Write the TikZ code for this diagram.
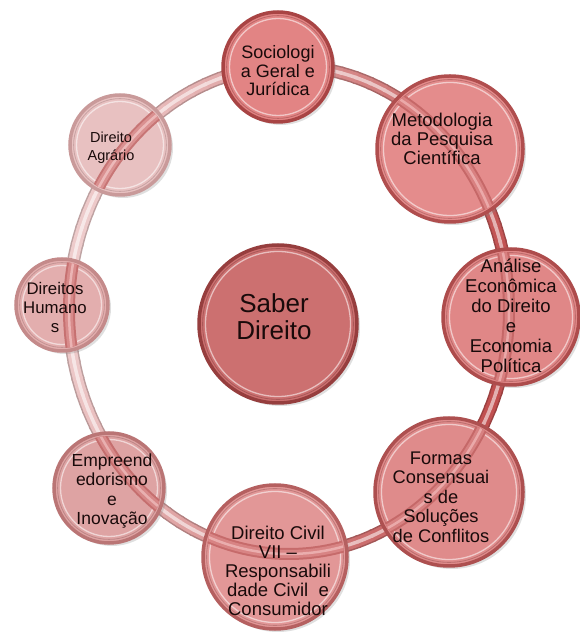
\documentclass[tikz,border=0pt]{standalone}
\usepackage{fontspec}
\setmainfont{Liberation Sans}
\usetikzlibrary{shadows}
\definecolor{ringdark}{RGB}{192,78,78}
\definecolor{ringlight}{RGB}{238,204,204}
\definecolor{txt}{RGB}{25,10,10}
\definecolor{seeE}{RGB}{188,92,92}
\definecolor{seeM}{RGB}{212,124,124}
\definecolor{seeH}{RGB}{238,182,182}
\definecolor{cenF}{RGB}{204,112,112}\definecolor{cenD}{RGB}{150,62,62}
\definecolor{socF}{RGB}{226,132,132}\definecolor{socD}{RGB}{168,68,68}
\definecolor{metF}{RGB}{228,140,140}\definecolor{metD}{RGB}{176,78,78}
\definecolor{anaF}{RGB}{224,135,135}\definecolor{anaD}{RGB}{173,76,76}
\definecolor{forF}{RGB}{223,139,139}\definecolor{forD}{RGB}{173,80,80}
\definecolor{civF}{RGB}{226,151,151}\definecolor{civD}{RGB}{181,96,96}
\definecolor{empF}{RGB}{222,163,163}\definecolor{empD}{RGB}{186,117,117}
\definecolor{humF}{RGB}{227,174,174}\definecolor{humD}{RGB}{196,138,138}
\definecolor{agrF}{RGB}{232,193,193}\definecolor{agrD}{RGB}{201,154,154}
\newcommand\bubble[4]{%
  \node[bub, minimum size=2*#4pt, fill=#1F, draw=#1D] (#1) at (#2,#3) {};
  \draw[white, opacity=.55, line width=1.3pt] (#1.center) circle ({#4-6.5});
  \draw[#1D!70!black, opacity=.35, line width=.8pt] (#1.center) circle ({#4-3.6});
}
\newcommand\seethrough[2]{%
  \begin{scope}
    \clip (#1.center) circle (#2);
    \draw[seeE!75!#1F, line width=12pt] (ringc) ellipse [x radius=220pt, y radius=244pt];
    \draw[seeM!70!#1F, line width=8pt] (ringc) ellipse [x radius=220pt, y radius=244pt];
    \draw[seeH!70!#1F, line width=2.5pt] (ringc) ellipse [x radius=220pt, y radius=244pt];
  \end{scope}
}
\begin{document}
\begin{tikzpicture}[x=1pt,y=1pt,
  bub/.style={circle, inner sep=0pt, line width=3.5pt,
    drop shadow={shadow xshift=3pt,shadow yshift=-3pt,opacity=.25}},
  lbl/.style={align=center, inner sep=0pt, text=txt}]
\useasboundingbox (0,0) rectangle (580,637);
\coordinate (ringc) at (289,327);
% ring
\foreach \a in {0,4,...,356} {
  \pgfmathsetmacro\m{50+50*cos(\a+12)}
  \colorlet{rc}{ringdark!\m!ringlight}
  \draw[rc!80!black, line width=13pt] ([shift={(\a:220pt and 244pt)}]ringc)
    arc[start angle=\a, end angle=\a+4.6, x radius=220pt, y radius=244pt];
}
\foreach \a in {0,4,...,356} {
  \pgfmathsetmacro\m{50+50*cos(\a+12)}
  \colorlet{rc}{ringdark!\m!ringlight}
  \draw[rc, line width=10pt] ([shift={(\a:220pt and 244pt)}]ringc)
    arc[start angle=\a, end angle=\a+4.6, x radius=220pt, y radius=244pt];
}
\foreach \a in {0,4,...,356} {
  \pgfmathsetmacro\m{50+50*cos(\a+12)}
  \colorlet{rc}{ringdark!\m!ringlight}
  \draw[rc!45!white, line width=3.5pt] ([shift={(\a:220pt and 244pt)}]ringc)
    arc[start angle=\a, end angle=\a+4.6, x radius=220pt, y radius=244pt];
}
% nodes
\bubble{cen}{278}{313}{79}
\bubble{soc}{278}{570}{55}
\bubble{met}{450}{488}{73}
\bubble{ana}{511}{320}{68}
\bubble{for}{449}{145}{74}
\bubble{civ}{275}{80}{72}
\bubble{emp}{109}{149}{55}
\bubble{hum}{62}{332}{46}
\bubble{agr}{120}{492}{50}
% ring seen through the translucent bubbles
\seethrough{met}{70}
\seethrough{ana}{65}
\seethrough{for}{71}
\seethrough{civ}{69}
\seethrough{emp}{52}
\seethrough{hum}{43}
\seethrough{agr}{47}
% labels
\node[lbl, font=\fontsize{26}{27}\selectfont] (cenT) at (274,320) {Saber\\Direito};
\node[lbl, font=\fontsize{18}{18.5}\selectfont] (socT) at (278,566) {Sociologi\\a Geral e\\Jurídica};
\node[lbl, font=\fontsize{18.5}{19}\selectfont] (metT) at (442,498) {Metodologia\\da Pesquisa\\Científica};
\node[lbl, font=\fontsize{18.5}{20}\selectfont] (anaT) at (511,321) {Análise\\Econômica\\do Direito\\e\\Economia\\Política};
\node[lbl, font=\fontsize{18.3}{19.5}\selectfont] (forT) at (441,140) {Formas\\Consensuai\\s de\\Soluções\\de Conflitos};
\node[lbl, font=\fontsize{18.5}{19}\selectfont] (civT) at (278,66) {Direito Civil\\VII –\\Responsabili\\dade Civil~~e\\Consumidor};
\node[lbl, font=\fontsize{17.5}{19.5}\selectfont] (empT) at (112,146) {Empreend\\edorismo\\e\\Inovação};
\node[lbl, font=\fontsize{16.8}{19}\selectfont] (humT) at (55,330) {Direitos\\Humano\\s};
\node[lbl, font=\fontsize{14.5}{18}\selectfont] (agrT) at (111,489) {Direito\\Agrário};
\end{tikzpicture}
\end{document}
